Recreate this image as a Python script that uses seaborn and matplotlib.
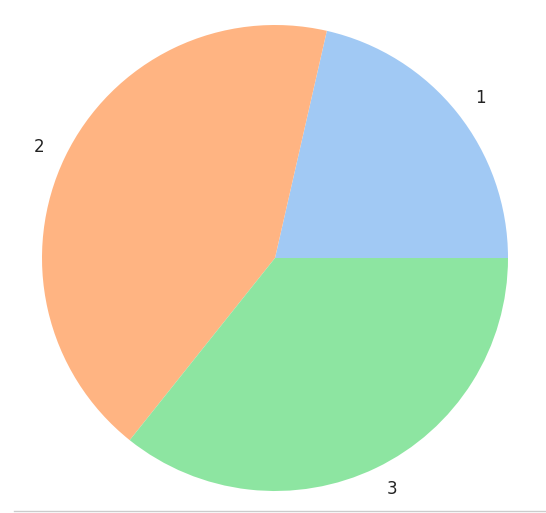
import matplotlib
matplotlib.use('Agg')
import matplotlib.pyplot as plt
import seaborn as sns

labels = ['1', '2', '3']
values = [3, 6, 5]

colors = sns.color_palette('pastel')[:len(values)]

fig = plt.figure(figsize=(5.46, 5.13), dpi=100)
# pie keeps +-1.25 limits, so the box is 2.5 radii wide (radius ~233 px)
r = 233
cx, cy = 275, 255
ax = fig.add_axes([(cx - 1.25 * r) / 546, (cy - 1.25 * r) / 513,
                   2.5 * r / 546, 2.5 * r / 513])

ax.pie(values, labels=labels, colors=colors, startangle=0,
       textprops={'fontsize': 12, 'color': '#222222'})
ax.set_aspect('equal')

# thin grey rule along the bottom edge
fig.add_artist(plt.Line2D([14 / 546, 1], [2.5 / 513, 2.5 / 513],
                          transform=fig.transFigure, color='#cccccc', lw=1))

fig.savefig('out.png', dpi=100)
